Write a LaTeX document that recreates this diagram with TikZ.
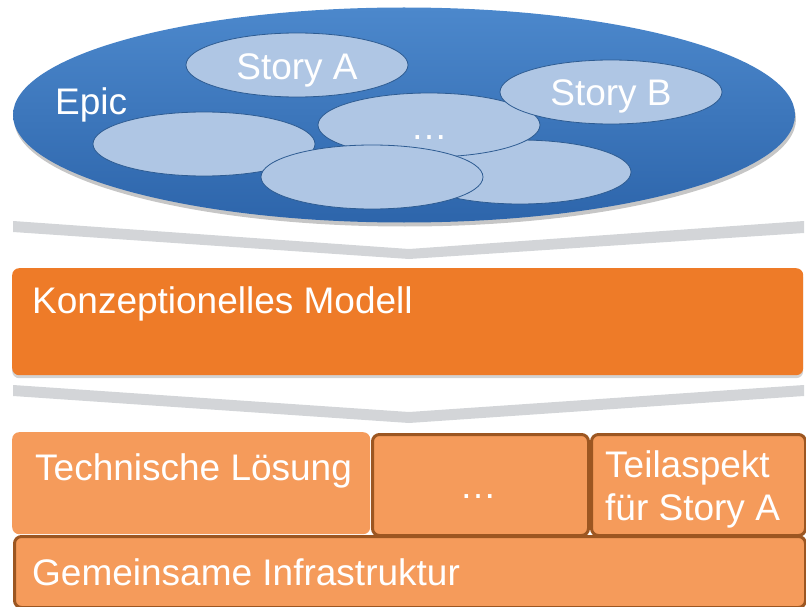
\documentclass[tikz,border=0pt]{standalone}
\usepackage{fontspec}
\setmainfont{Liberation Sans}
\usepackage{tikz}
\usetikzlibrary{shapes.geometric, positioning, shadows}
\definecolor{epictop}{HTML}{4C88CC}
\definecolor{epicbottom}{HTML}{2D65AB}
\definecolor{storyfill}{HTML}{AFC6E4}
\definecolor{storyline}{HTML}{2E5C92}
\definecolor{chevron}{HTML}{D3D5D8}
\definecolor{model}{HTML}{EE7B28}
\definecolor{layer}{HTML}{F59B5B}
\definecolor{layerline}{HTML}{9C5621}

\begin{document}
\begin{tikzpicture}[
  x=1pt, y=-1pt,
  epic/.style={ellipse, draw=none, inner sep=0pt, top color=epictop, bottom color=epicbottom,
    minimum width=782pt, minimum height=215pt,
    drop shadow={shadow xshift=1pt, shadow yshift=-4pt, opacity=0.45}},
  story/.style={ellipse, draw=storyline, line width=0.8pt, fill=storyfill, inner sep=0pt,
    minimum width=222pt, minimum height=64pt},
  label/.style={text=white, inner sep=0pt, font=\fontsize{37}{43}\selectfont},
  band/.style={fill=chevron, draw=none},
  modelbox/.style={fill=model, rounded corners=7pt, inner sep=0pt, anchor=north west,
    drop shadow={shadow xshift=0pt, shadow yshift=-3pt, opacity=0.35}},
  part/.style={fill=layer, rounded corners=7pt, inner sep=0pt, anchor=north west},
  framed/.style={part, draw=layerline, line width=3pt},
]
\useasboundingbox (0,0) rectangle (806,607);

% epic with its stories
\node[epic] (epic) at (404,115) {};
\node[story] (blankL) at (204,144) {};
\node[story] (blankR) at (520,172) {};
\node[story] (more) at (429,125) {};
\node[story] (blankM) at (372,177) {};
\node[story] (storyA) at (297,65) {};
\node[story] (storyB) at (611,92) {};

\node[label, anchor=base west] (epicText) at (55,115) {Epic};
\node[label, anchor=base] (storyAText) at (297,80) {Story A};
\node[label, anchor=base] (storyBText) at (611,106) {Story B};
\node[label, anchor=base] (moreText) at (429,140) {…};

% chevrons between the layers
\fill[band] (13,221) -- (409,249) -- (804,221) -- (804,233) -- (409,259) -- (13,232) -- cycle;
\fill[band] (13,385) -- (409,412) -- (804,385) -- (804,396) -- (409,423) -- (13,396) -- cycle;

% conceptual model
\node[modelbox, minimum width=791pt, minimum height=107pt] (model) at (12,268) {};
\node[label, anchor=base west] (modelText) at (32,313) {Konzeptionelles Modell};

% technical solution and infrastructure
\node[part, minimum width=358pt, minimum height=102pt] (tech) at (12,432) {};
\node[framed, minimum width=216pt, minimum height=101pt] (techMore) at (371,433) {};
\node[framed, minimum width=214pt, minimum height=101pt] (techA) at (590,433) {};
\node[framed, minimum width=791pt, minimum height=71pt] (infra) at (13,535) {};

\node[label, anchor=base west] (techText) at (35,480) {Technische Lösung};
\node[label, anchor=base] (techMoreText) at (478,498) {…};
\node[label, anchor=north west, align=left] (techAText) at (605,450) {Teilaspekt\\für Story A};
\node[label, anchor=base west] (infraText) at (32,585) {Gemeinsame Infrastruktur};
\end{tikzpicture}
\end{document}
